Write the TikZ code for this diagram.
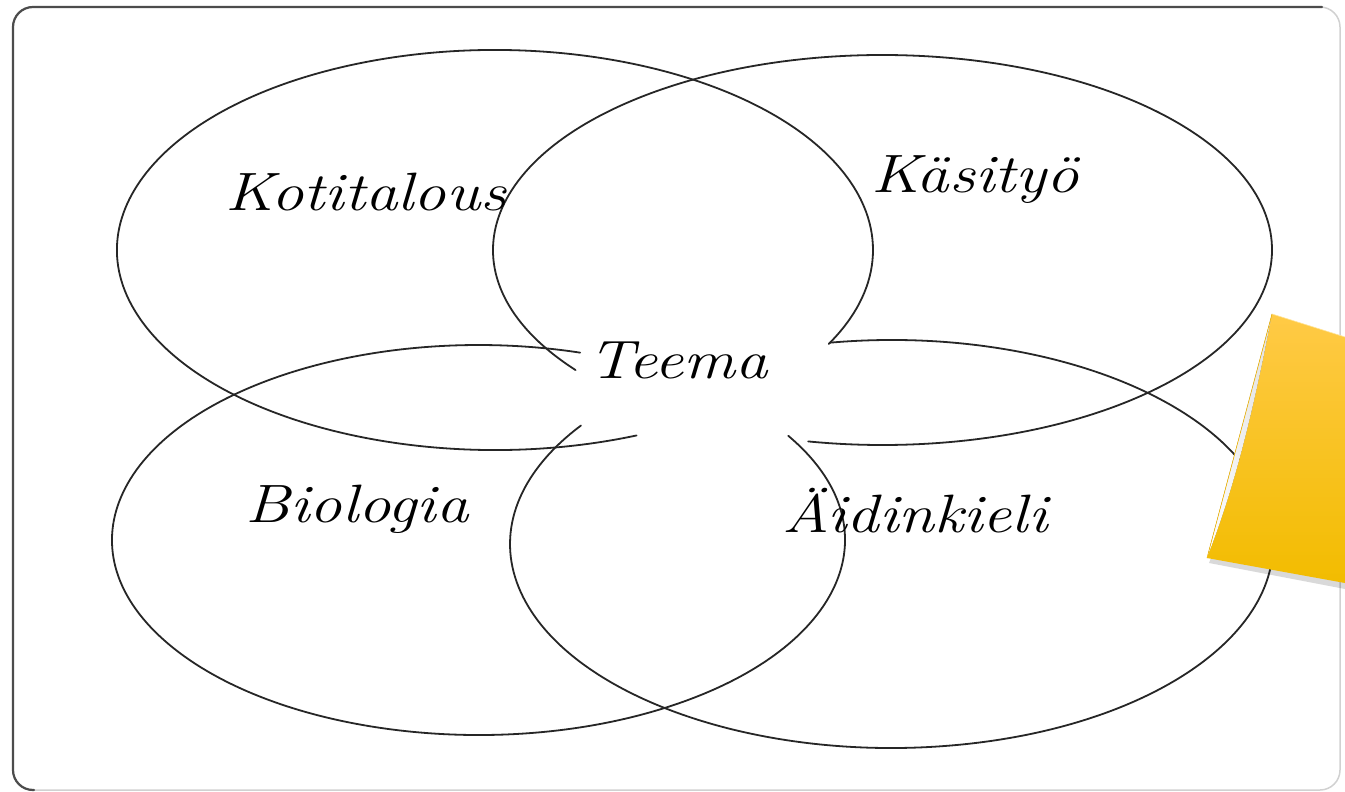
\documentclass[tikz,border=0pt]{standalone}
\usepackage{fontspec}
\usepackage{graphicx}
\begin{document}
\begin{tikzpicture}[x=1pt,y=-1pt,
  venn/.style={line width=1.8pt, draw=black!85, line cap=round},
  lbl/.style={anchor=base, inner sep=0pt, font=\fontsize{54}{60}\selectfont\itshape, text=black},
  frameedge/.style={line width=2.2pt, draw=black!70, line cap=round},
  framelight/.style={line width=1.5pt, draw=black!18}]
\useasboundingbox (0,0) rectangle (1345,792);
\fill[white] (0,0) rectangle (1345,792);
% frame
\draw[framelight, rounded corners=20pt] (13,7) rectangle (1340,790);
\draw[frameedge, rounded corners=20pt] (34,790) -- (13,790) -- (13,7) -- (1322,7);
% ellipse centres
\coordinate (cA) at (495,250);
\coordinate (cB) at (882.5,250);
\coordinate (cC) at (478.5,540);
\coordinate (cD) at (891.5,544);
% open ellipses
\draw[venn] (cA) ++(68:378 and 200) arc[start angle=68, end angle=388, x radius=378, y radius=200];
\draw[venn] (cB) ++(142:389.5 and 195) arc[start angle=142, end angle=461, x radius=389.5, y radius=195];
\draw[venn] (cC) ++(-32.3:366.5 and 195) arc[start angle=-32.3, end angle=286.1, x radius=366.5, y radius=195];
\draw[venn] (cD) ++(-99.3:381.5 and 204) arc[start angle=-99.3, end angle=215.5, x radius=381.5, y radius=204];
% labels
\node[lbl] (koti) at (366,210) {\scalebox{1.2}[1]{Kotitalous}};
\node[lbl] (kasi) at (975,192) {\scalebox{1.2}[1]{Käsityö}};
\node[lbl] (teema) at (678,378) {\scalebox{1.2}[1]{Teema}};
\node[lbl] (bio) at (357,522) {\scalebox{1.2}[1]{Biologia}};
\node[lbl] (aidin) at (915,532) {\scalebox{1.2}[1]{Äidinkieli}};
% sticky note
\fill[black, opacity=0.15] (1275,318) -- (1345,341) -- (1345,589) -- (1209,563) .. controls (1234,500) and (1254,424) .. (1275,318) -- cycle;
\fill[left color=white, right color=black!12] (1272,314) -- (1207,558) .. controls (1232,495) and (1252,420) .. (1272,314) -- cycle;
\shade[top color={rgb,255:red,255;green,202;blue,70}, bottom color={rgb,255:red,242;green,188;blue,0}]
  (1272,314) -- (1345,337) -- (1345,583) -- (1207,558) .. controls (1232,495) and (1252,420) .. (1272,314) -- cycle;
\draw[line width=0.6pt, draw={rgb,255:red,245;green,184;blue,0}] (1272,314) -- (1207,558);
\draw[line width=0.6pt, draw={rgb,255:red,255;green,228;blue,150}] (1272,314) -- (1345,337);
\end{tikzpicture}
\end{document}
